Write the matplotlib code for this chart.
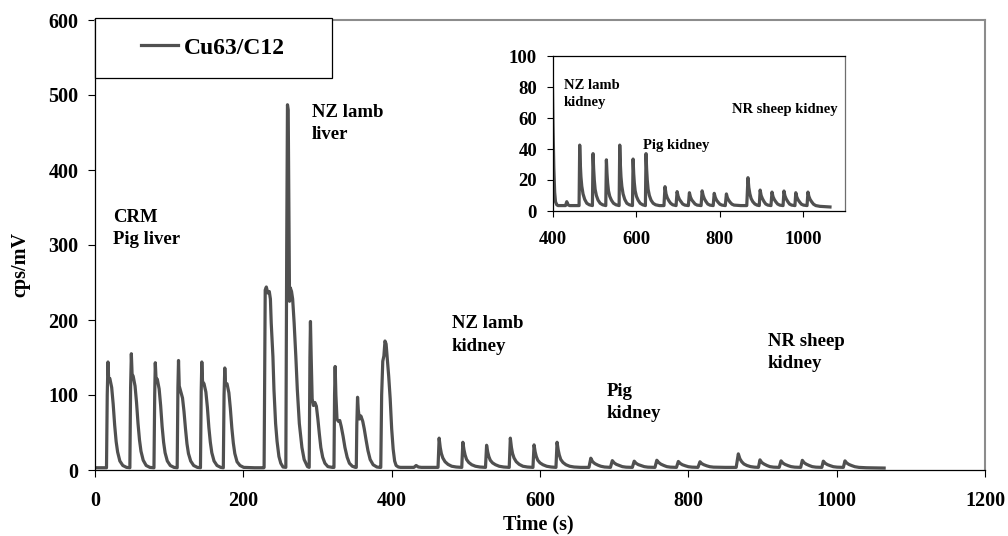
import numpy as np
import matplotlib.pyplot as plt
from matplotlib.patches import Rectangle

plt.rcParams['font.family'] = ['Liberation Serif', 'DejaVu Serif']
plt.rcParams['font.weight'] = 'bold'

# trace, one segment per sample group
crm_time = [0, 15.5, 16.5, 17.5, 18.5, 20, 22.5, 24.5, 26.5, 28.5, 30.5, 33.5, 37.5, 42.5,
            47, 48, 49, 50, 51.5, 54, 56, 58, 60, 62, 65, 69, 74,
            79.5, 80.5, 81.3, 82.3, 84, 86.5, 88.5, 90.5, 92.5, 94.5, 97.5, 101.5, 106.5,
            110.8, 111.8, 112.6, 113.6, 115.5, 118, 120, 122, 124, 126, 129, 133, 138,
            142.2, 143.2, 144, 145, 147, 149.5, 151.5, 153.5, 155.5, 157.5, 160.5, 164.5, 169.5,
            173, 174, 175, 176, 178, 180.5, 182.5, 184.5, 186.5, 188.5, 191.5, 195.5, 200.5, 215, 227.5]
crm_cps = [3, 3, 100, 144, 120, 122, 110, 88, 60, 38, 24, 12, 6, 3.5,
           3, 110, 155, 128, 125, 112, 90, 62, 40, 25, 13, 6, 3.5,
           3, 100, 143, 122, 121, 108, 86, 58, 37, 23, 12, 6, 3.5,
           3, 110, 146, 112, 105, 96, 78, 55, 35, 22, 12, 6, 3.5,
           3, 105, 144, 118, 115, 104, 84, 57, 37, 23, 12, 6, 3.5,
           3, 100, 136, 114, 115, 103, 82, 56, 36, 22, 11, 6, 3.5, 3, 3]

liver_time = [228, 229.5, 231, 233, 235, 236.5, 237.6, 239.9, 241.3, 243.5, 245.5, 248, 250.5, 253.5,
              257.3, 258.5, 259.5, 260.5, 261.5, 262.3, 263.3, 265, 266.5, 268.5, 270.8, 272.8, 275.5, 279, 282, 286.5,
              288.8, 289.8, 290.5, 291.5, 292.8, 294.5, 296.5, 298.5, 300.5, 302.5, 304.5, 307, 310, 314, 320,
              322.2, 323, 323.8, 324.8, 326.3, 328, 330, 332, 334.5, 337, 340, 343, 347, 351,
              352.3, 353, 354, 355, 356.5, 358.5, 361, 363, 365.5, 368, 371, 375, 380, 384,
              385.3, 386.5, 388, 389.5, 391, 392.5, 394, 396, 398, 400, 402, 404, 406, 409, 412]
liver_cps = [3.5, 240, 244, 236, 238, 228, 196, 151, 107, 62, 38, 18, 9, 4,
             3.5, 300, 487, 480, 330, 225, 243, 238, 228, 196, 151, 107, 62, 30, 14, 4.5,
             3.5, 150, 198, 150, 95, 86, 90, 85, 68, 48, 30, 17, 9, 4.5, 3.5,
             3.5, 100, 138, 100, 68, 65, 66, 58, 45, 30, 17, 9, 5, 3.5,
             3.5, 60, 97, 80, 68, 72, 65, 55, 40, 26, 14, 7, 4, 3.5,
             3.5, 100, 145, 152, 172, 168, 150, 125, 95, 55, 28, 12, 6, 4, 3.5]

lamb_kidney_time = [416, 430, 433, 436, 440,
                    462.5, 464, 465.5, 467, 469, 472, 476, 481, 487, 494.5,
                    496, 497.5, 499, 501, 504, 508, 513, 519, 526.5,
                    528, 529.5, 531, 533, 536, 540, 545, 551, 558.5,
                    560, 561.5, 563, 565, 568, 572, 577, 583, 590.5,
                    592, 593.5, 595, 597, 600, 604, 609, 615, 621.5,
                    623, 624.5, 626, 628, 631, 635, 640, 646, 655]
lamb_kidney_cps = [3.5, 3.5, 6, 4, 3.5,
                   3.5, 42.5, 30, 22, 16, 11, 7.5, 5, 4, 3.5,
                   37, 27, 20, 14, 10, 7, 5, 4, 3.5,
                   33, 24, 18, 13, 9.5, 7, 5, 4, 3.5,
                   42.5, 30, 22, 16, 11, 7.5, 5, 4, 3.5,
                   33.5, 24, 18, 13, 9.5, 7, 5, 4, 3.5,
                   37, 27, 20, 14, 10, 7, 5, 4, 3.5]

pig_kidney_time = [666, 668.5, 671, 674, 678, 682, 687, 695,
                   697.5, 700, 703, 707, 711, 716, 724.5,
                   727, 729.5, 732.5, 736.5, 740.5, 745.5, 755,
                   757.5, 760, 763, 767, 771, 776, 784,
                   786.5, 789, 792, 796, 800, 805, 813,
                   815.7, 818, 821, 825, 829, 834, 850, 864.5]
pig_kidney_cps = [3.5, 15.7, 11, 8.5, 6.5, 5, 4, 3.5,
                  12.5, 9.5, 7.5, 6, 4.5, 3.8, 3.5,
                  11.8, 9, 7.2, 5.8, 4.5, 3.8, 3.5,
                  13, 10, 7.8, 6, 4.5, 3.8, 3.5,
                  11.4, 8.8, 7, 5.6, 4.4, 3.8, 3.5,
                  11, 8.6, 7, 5.5, 4.4, 3.8, 3.5, 3.5]

sheep_kidney_time = [867.4, 869.5, 872, 875, 879, 884, 889, 894.5,
                     896.6, 899, 902, 906, 910, 915, 922.5,
                     925, 927.5, 930.5, 934.5, 938.5, 943.5, 951.5,
                     953.7, 956, 959, 963, 967, 972, 980,
                     982, 984.5, 987.5, 991.5, 995.5, 1000.5, 1009,
                     1011.2, 1013.5, 1016.5, 1020.5, 1024.5, 1030, 1040, 1052, 1064]
sheep_kidney_cps = [21.5, 15, 11, 8, 6, 4.5, 3.8, 3.5,
                    13.5, 10, 8, 6, 4.5, 3.8, 3.5,
                    12.2, 9.2, 7.4, 5.8, 4.5, 3.8, 3.5,
                    12.9, 9.8, 7.8, 6, 4.5, 3.8, 3.5,
                    11.8, 9, 7.2, 5.7, 4.4, 3.8, 3.5,
                    12.2, 9.4, 7.4, 5.8, 4.4, 3.5, 3, 2.8, 2.6]

t = np.concatenate([crm_time, liver_time, lamb_kidney_time, pig_kidney_time, sheep_kidney_time])
cps = np.concatenate([crm_cps, liver_cps, lamb_kidney_cps, pig_kidney_cps, sheep_kidney_cps])

main_labels = [(24.3, 348, 'CRM\nPig liver'), (292.6, 488, 'NZ lamb\nliver'),
               (481, 206, 'NZ lamb\nkidney'), (690, 116, 'Pig\nkidney'),
               (907, 183, 'NR sheep\nkidney')]
inset_labels = [(426, 85, 'NZ lamb\nkidney'), (616, 46.3, 'Pig kidney'),
                (830, 70, 'NR sheep kidney')]

col = '#505050'

fig = plt.figure(figsize=(10.08, 5.36), dpi=100)
ax = fig.add_axes([95/1008, 1-470/536, 890/1008, 450/536])
ax.plot(t, cps, color=col, lw=2.3, label='Cu63/C12')
ax.set_xlim(0, 1200)
ax.set_ylim(0, 600)
ax.set_xticks(range(0, 1201, 200))
ax.set_yticks(range(0, 601, 100))
ax.tick_params(axis='x', direction='out', length=5, width=0.8, pad=10, labelsize=14.5)
ax.tick_params(axis='y', direction='out', length=5, width=0.8, pad=7, labelsize=14.5)
for s in ['top', 'right']:
    ax.spines[s].set_color('#8c8c8c')
    ax.spines[s].set_linewidth(1.5)
for s in ['left', 'bottom']:
    ax.spines[s].set_linewidth(0.9)
ax.set_xlabel('Time (s)', fontsize=14.5, fontweight='bold', va='center')
ax.xaxis.set_label_coords(0.498, -0.12)
ax.set_ylabel('cps/mV', fontsize=14.5, fontweight='bold', va='center')
ax.yaxis.set_label_coords(-0.084, 0.456)

for x, y, s in main_labels:
    ax.text(x, y, s, fontsize=13.5, fontweight='bold', va='top', ha='left', linespacing=1.4)

# legend box
ax.add_patch(Rectangle((0, 0.8711), 0.2663, 0.1333, transform=ax.transAxes,
                       facecolor='white', edgecolor='black', lw=0.9, clip_on=False, zorder=5))
leg = ax.legend(loc='center', bbox_to_anchor=(0.133, 0.938), frameon=False,
                handlelength=1.57, handletextpad=0.25, prop={'size': 17, 'weight': 'bold'})
leg.set_zorder(6)

# inset
axi = fig.add_axes([553/1008, 1-211/536, 292/1008, 155/536])
axi.plot(t, cps, color=col, lw=2.3)
axi.set_xlim(400, 1100)
axi.set_ylim(0, 100)
axi.set_xticks([400, 600, 800, 1000])
axi.set_yticks(range(0, 101, 20))
axi.tick_params(axis='x', direction='out', length=4.5, width=0.8, pad=10, labelsize=13.5)
axi.tick_params(axis='y', direction='out', length=4.5, width=0.8, pad=7, labelsize=13.5)
axi.spines['right'].set_color('#6e6e6e')
for s in axi.spines.values():
    s.set_linewidth(0.9)
for x, y, s in inset_labels:
    axi.text(x, y, s, fontsize=10.5, fontweight='bold', va='top', ha='left', linespacing=1.35)

fig.savefig('out.png', dpi=100)
